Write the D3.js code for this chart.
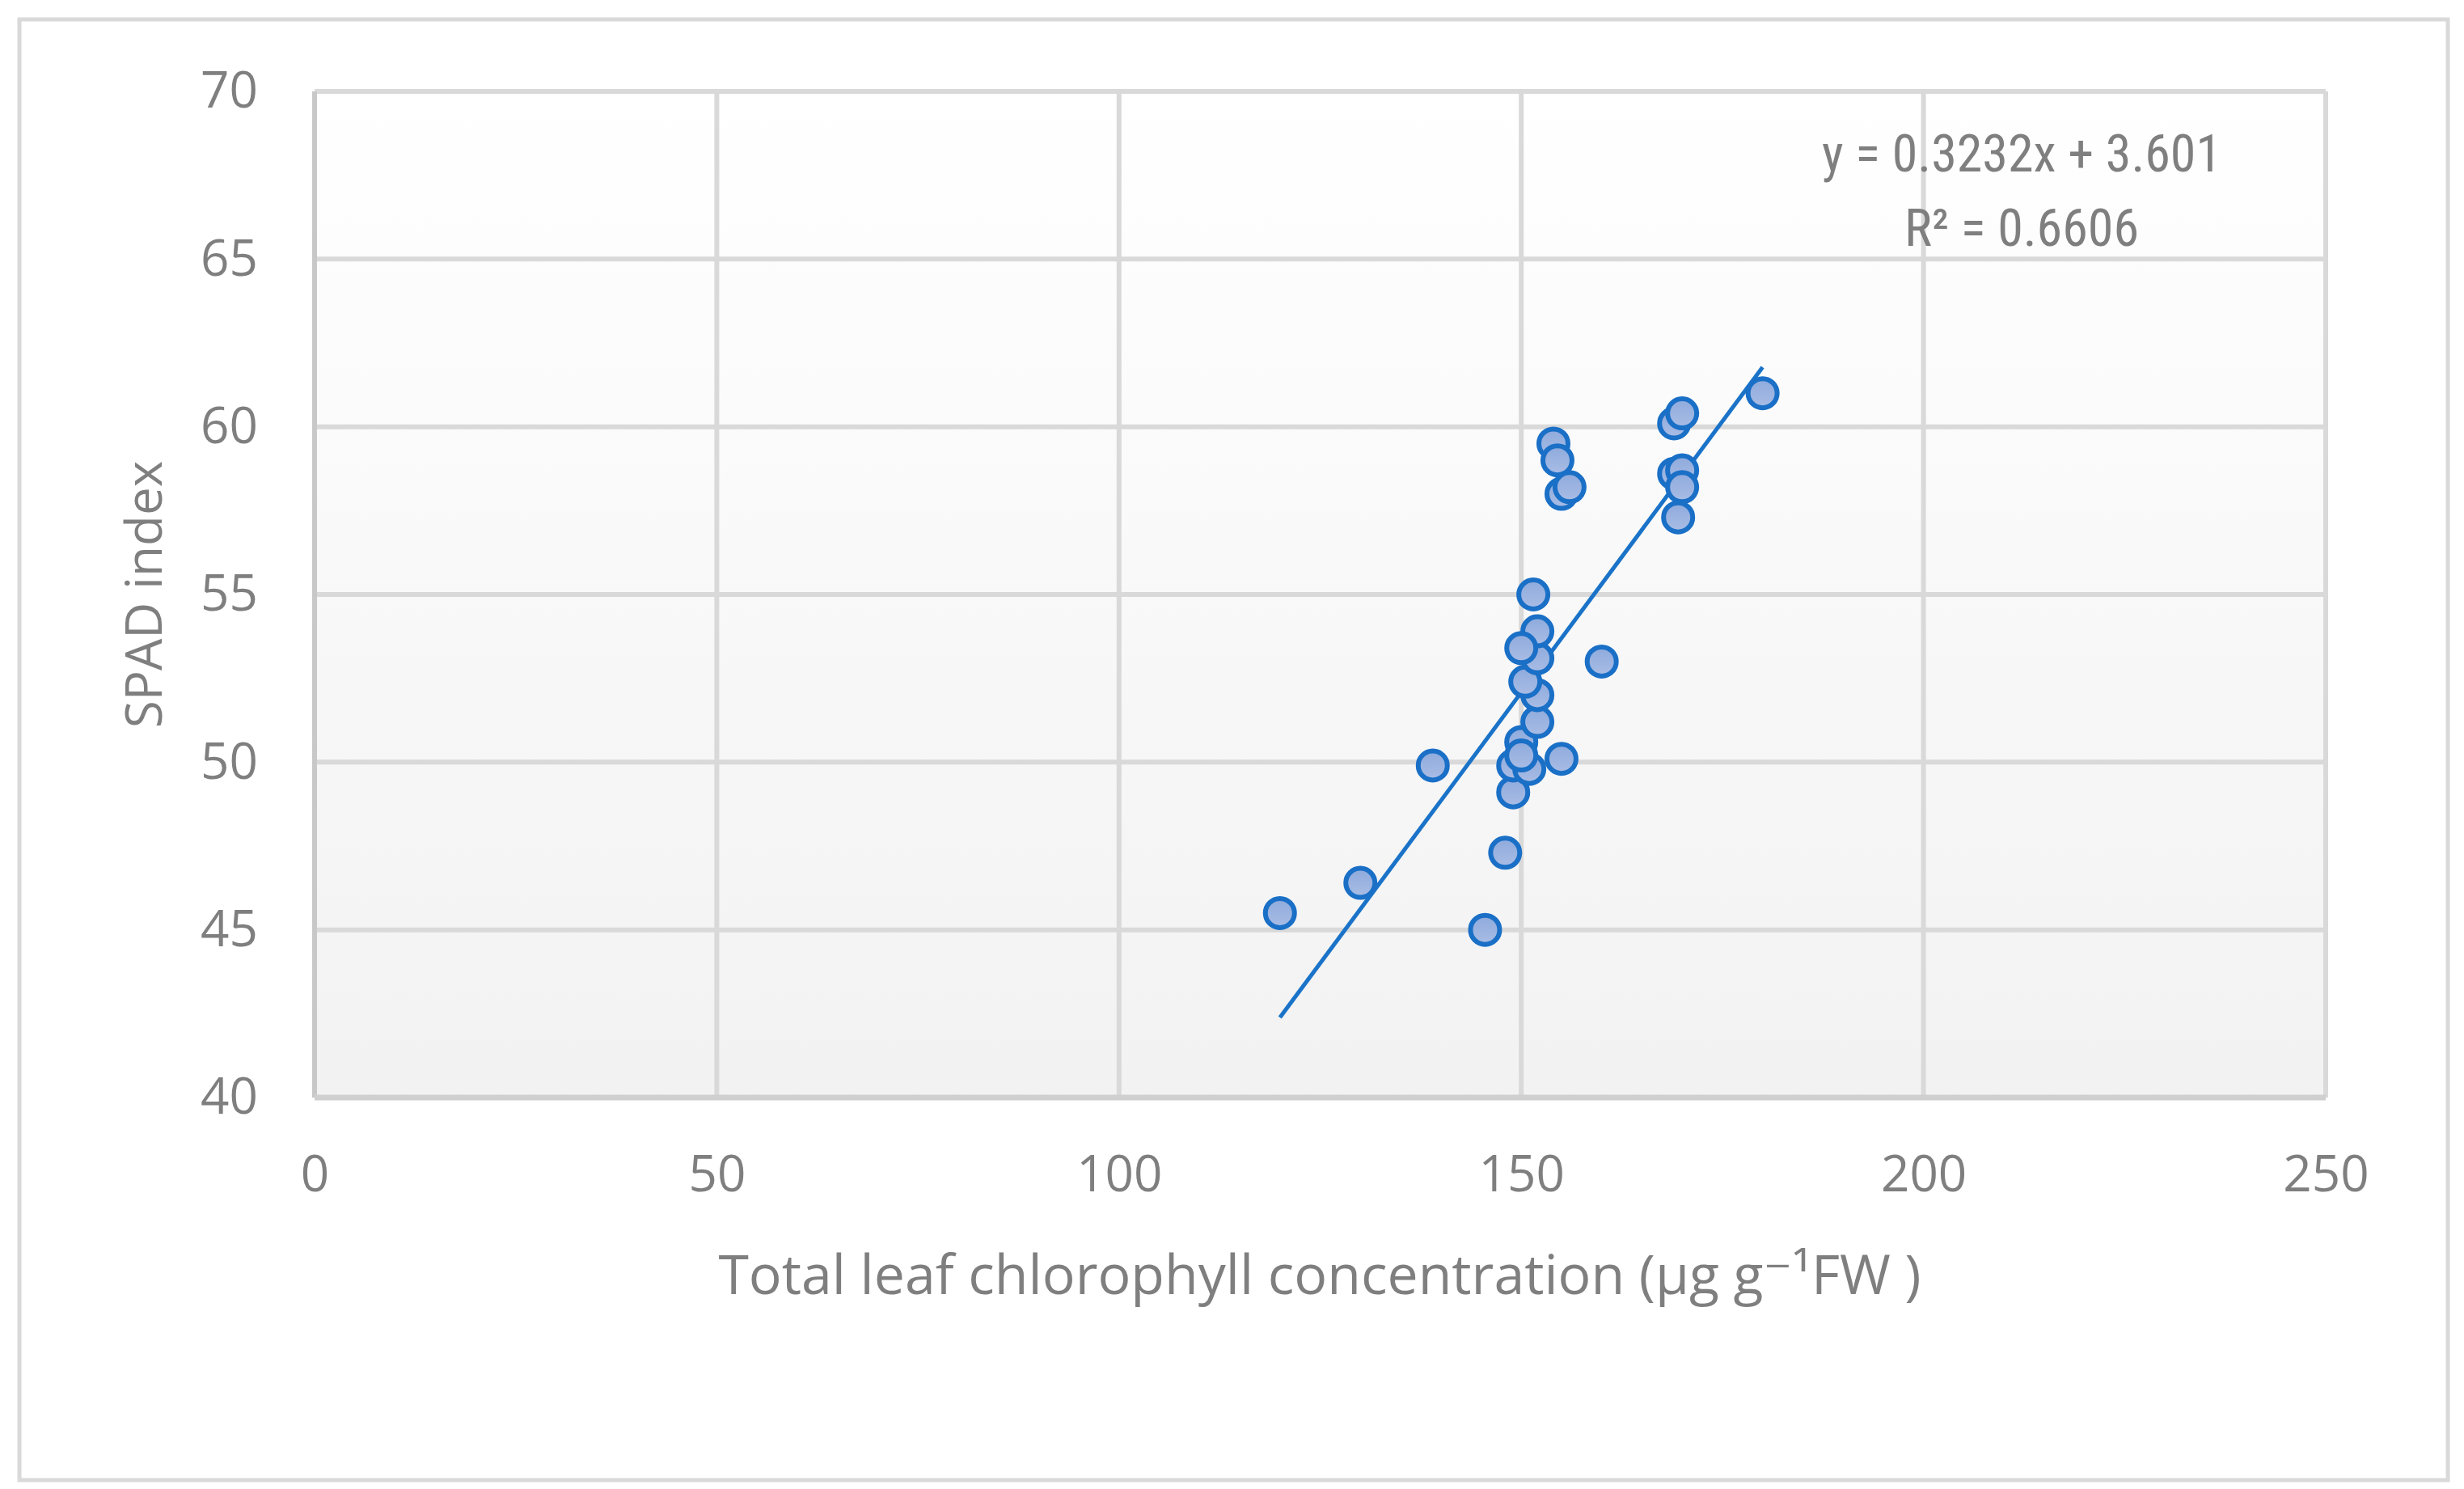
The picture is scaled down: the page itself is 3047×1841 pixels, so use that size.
<!DOCTYPE html>
<html>
<head>
<meta charset="utf-8">
<script src="https://cdn.jsdelivr.net/npm/d3@7"></script>
<style>
  body { margin: 0; background: #fff; }
  text { fill: #7f7f7f; font-family: "Open Sans", "DejaVu Sans", sans-serif; }
</style>
</head>
<body>
<svg id="chart" width="3047" height="1841"></svg>
<script>
// chlorophyll (x) vs SPAD (y)
var chlorophyll = [120, 130, 139, 145.5, 148, 149, 149, 150, 151, 150, 152, 152, 150.5, 152, 152, 150, 151.5, 155, 160, 154, 154.5, 155, 156, 169, 170, 169, 170, 170, 169.5, 180];
var spad =        [45.5, 46.4, 49.9, 45.0, 47.3, 49.1, 49.9, 50.6, 49.8, 50.2, 51.2, 52.0, 52.4, 53.1, 53.9, 53.4, 55.0, 50.1, 53.0, 59.5, 59.0, 58.0, 58.2, 60.1, 60.4, 58.6, 58.7, 58.2, 57.3, 61.0];
var xTicks = [0, 50, 100, 150, 200, 250];
var yTicks = [40, 45, 50, 55, 60, 65, 70];
var slope = 0.3232, intercept = 3.601;

var svg = d3.select("#chart");
var plotLeft = 389, plotTop = 113, plotRight = 2876, plotBottom = 1357;

var x = d3.scaleLinear().domain([0, 250]).range([plotLeft, plotRight]);
var y = d3.scaleLinear().domain([40, 70]).range([plotBottom, plotTop]);

// outer frame
svg.append("rect").attr("x", 24).attr("y", 24).attr("width", 3003).attr("height", 1806)
  .attr("fill", "#fff").attr("stroke", "#d9d9d9").attr("stroke-width", 5);

// plot background + marker gradients
var defs = svg.append("defs");
var grad = defs.append("linearGradient").attr("id", "bg")
  .attr("x1", 0).attr("y1", 0).attr("x2", 0).attr("y2", 1);
grad.append("stop").attr("offset", "0%").attr("stop-color", "#ffffff");
grad.append("stop").attr("offset", "100%").attr("stop-color", "#f2f2f2");
var pg = defs.append("linearGradient").attr("id", "pt")
  .attr("x1", 0).attr("y1", 0).attr("x2", 0).attr("y2", 1);
pg.append("stop").attr("offset", "0%").attr("stop-color", "#8eaadc");
pg.append("stop").attr("offset", "100%").attr("stop-color", "#a9bde5");

svg.append("rect").attr("x", plotLeft).attr("y", plotTop)
  .attr("width", plotRight - plotLeft).attr("height", plotBottom - plotTop)
  .attr("fill", "url(#bg)");

// grid
svg.append("g").selectAll("line").data(yTicks).join("line")
  .attr("x1", plotLeft).attr("x2", plotRight).attr("y1", d => y(d)).attr("y2", d => y(d))
  .attr("stroke", "#d9d9d9").attr("stroke-width", 6);
svg.append("g").selectAll("line").data(xTicks).join("line")
  .attr("y1", plotTop).attr("y2", plotBottom).attr("x1", d => x(d)).attr("x2", d => x(d))
  .attr("stroke", d => d === 0 ? "#c8c8c8" : "#d9d9d9").attr("stroke-width", 6);
svg.append("line").attr("x1", plotLeft).attr("x2", plotRight).attr("y1", plotBottom).attr("y2", plotBottom)
  .attr("stroke", "#cfcfcf").attr("stroke-width", 7);

// tick labels
var gx = svg.append("g").attr("transform", "translate(0," + (plotBottom + 72) + ")")
  .call(d3.axisBottom(x).tickValues(xTicks).tickSize(0).tickPadding(0));
var gy = svg.append("g").attr("transform", "translate(" + (plotLeft - 70) + ",0)")
  .call(d3.axisLeft(y).tickValues(yTicks).tickSize(0).tickPadding(0));
[gx, gy].forEach(function (g) {
  g.select(".domain").remove();
  g.selectAll("text").style("font-size", "62px").style("font-family", "'Open Sans', sans-serif").attr("fill", "#7f7f7f");
});

svg.append("text").attr("x", 1632).attr("y", 1600).attr("text-anchor", "middle")
  .style("font-size", "68px").text("Total leaf chlorophyll concentration (µg g\u207B\u00B9FW )");
svg.append("text").attr("transform", "translate(200,735) rotate(-90)").attr("text-anchor", "middle")
  .style("font-size", "62px").text("SPAD index");

// trendline
var xs = d3.extent(chlorophyll);
svg.append("line")
  .attr("x1", x(xs[0])).attr("y1", y(slope * xs[0] + intercept))
  .attr("x2", x(xs[1])).attr("y2", y(slope * xs[1] + intercept))
  .attr("stroke", "#1a73c8").attr("stroke-width", 5);

// points
svg.append("g").selectAll("circle").data(chlorophyll).join("circle")
  .attr("cx", d => x(d)).attr("cy", (d, i) => y(spad[i])).attr("r", 18)
  .attr("fill", "url(#pt)").attr("stroke", "#1a6fc6").attr("stroke-width", 6);

// equation
var eq = svg.append("text").attr("text-anchor", "middle")
  .style("font-family", "'Liberation Sans Narrow', 'Roboto Condensed', 'Open Sans', sans-serif")
  .style("font-size", "64px");
eq.append("tspan").attr("x", 2500).attr("y", 212).text("y = 0.3232x + 3.601");
eq.append("tspan").attr("x", 2500).attr("y", 304).text("R\u00B2 = 0.6606");
</script>
</body>
</html>
